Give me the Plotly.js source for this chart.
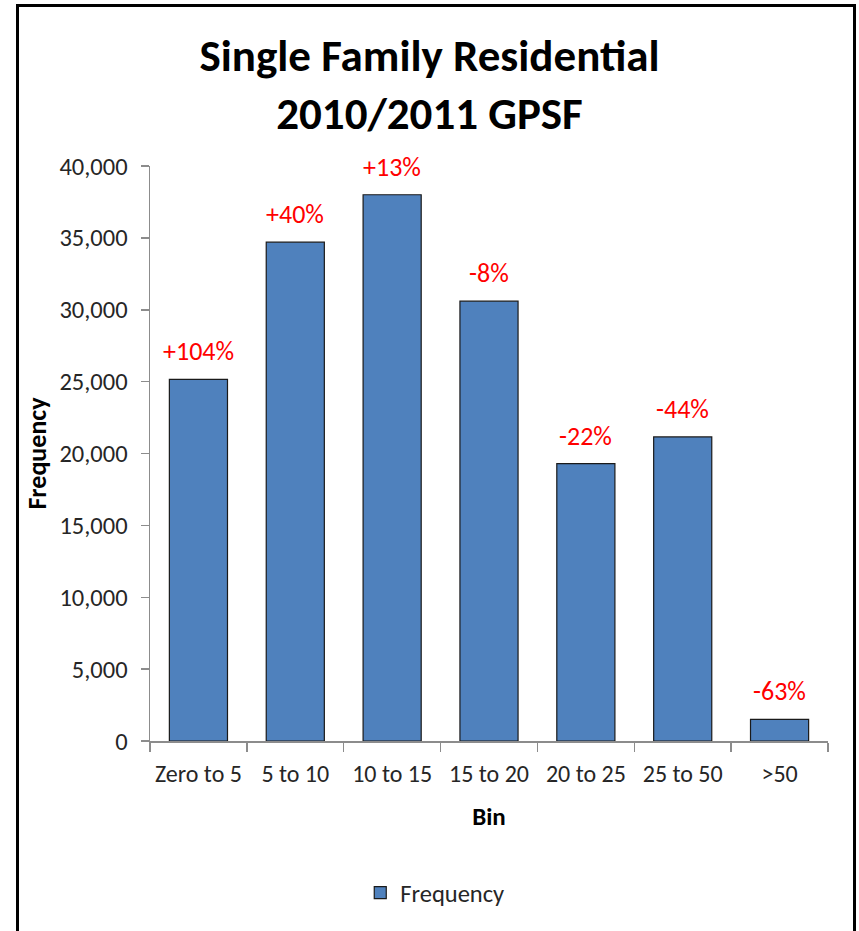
<!DOCTYPE html>
<html>
<head>
<meta charset="utf-8">
<script src="https://cdn.plot.ly/plotly-3.0.1.min.js"></script>
<style>
  html, body { margin: 0; padding: 0; background: #fff; }
  #wrap { position: relative; width: 859px; height: 931px; }
  #chart { width: 859px; height: 931px; }
  #frame { position: absolute; left: 16px; top: 4px; width: 834px; height: 940px;
           border-left: 3px solid #000; border-top: 3px solid #000; border-right: 3px solid #000;
           pointer-events: none; }
</style>
</head>
<body>
<div id="wrap">
  <div id="chart"></div>
  <div id="frame"></div>
</div>
<script>
const categories = ["Zero to 5", "5 to 10", "10 to 15", "15 to 20", "20 to 25", "25 to 50", ">50"];
const frequency = [25150, 34700, 38000, 30600, 19300, 21150, 1500];
const changeLabels = ["+104%", "+40%", "+13%", "-8%", "-22%", "-44%", "-63%"];
const yTickVals = [0, 5000, 10000, 15000, 20000, 25000, 30000, 35000, 40000];

const FONT = "Carlito, Calibri, Lato, 'Open Sans', sans-serif";

const trace = {
  type: "bar",
  name: "Frequency",
  x: categories,
  y: frequency,
  width: 0.6,
  marker: { color: "#4F81BD", line: { color: "#1a1a1a", width: 1.2 } },
  hoverinfo: "x+y"
};

const annotations = categories.map((c, i) => ({
  x: c, y: frequency[i], xref: "x", yref: "y",
  text: changeLabels[i], showarrow: false,
  yanchor: "bottom", yshift: 10,
  font: { family: FONT, size: 26, color: "#FF0000" }
}));

const layout = {
  width: 859, height: 931,
  margin: { l: 150, r: 31, t: 166, b: 190 },
  paper_bgcolor: "#fff", plot_bgcolor: "#fff",
  font: { family: FONT, color: "#262626" },
  title: {
    text: "<b>Single Family Residential<br>2010/2011 GPSF</b>",
    font: { family: FONT, size: 45, color: "#000" },
    x: 0.5, xanchor: "center", y: 0.924, yanchor: "top"
  },
  xaxis: {
    type: "category",
    showline: true, linecolor: "#8c8c8c", linewidth: 1.5,
    ticks: "outside", ticklen: 9, tickcolor: "#8c8c8c", tickwidth: 1.5,
    tickson: "boundaries",
    tickangle: 0,
    ticklabelstandoff: 11,
    tickfont: { family: FONT, size: 24, color: "#262626" },
    showgrid: false, zeroline: false,
    title: { text: "<b>Bin</b>", font: { family: FONT, size: 25, color: "#000" }, standoff: 20 }
  },
  yaxis: {
    range: [0, 40000],
    tickvals: yTickVals,
    tickformat: ",d",
    showline: true, linecolor: "#8c8c8c", linewidth: 1.5,
    ticks: "outside", ticklen: 8, tickcolor: "#8c8c8c", tickwidth: 1.5,
    ticklabelstandoff: 8,
    tickfont: { family: FONT, size: 24.5, color: "#262626" },
    showgrid: false, zeroline: false,
    title: { text: "<b>Frequency</b>", font: { family: FONT, size: 26, color: "#000" }, standoff: 5 }
  },
  showlegend: true,
  legend: {
    orientation: "h", x: 0.42, xanchor: "center", y: -0.264, yanchor: "middle",
    font: { family: FONT, size: 24.5, color: "#262626" }
  },
  annotations: annotations,
  bargap: 0.4
};

Plotly.newPlot("chart", [trace], layout, { displayModeBar: false, staticPlot: true });
</script>
</body>
</html>
